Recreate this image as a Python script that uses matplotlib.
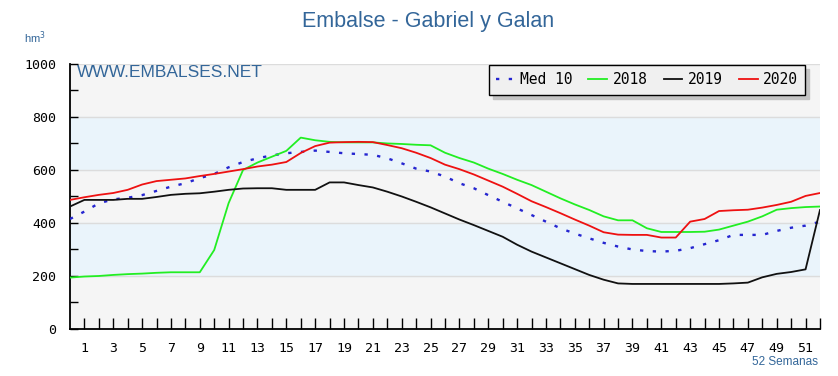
import matplotlib
matplotlib.use("Agg")
import matplotlib.pyplot as plt
import numpy as np

# weeks 0..52
weeks = np.arange(0, 53)

med10 = [415, 443, 474, 489, 495, 505, 521, 537, 550, 569, 585, 610, 630, 644, 655, 663,
         668, 673, 668, 663, 660, 657, 644, 625, 605, 594, 575, 550, 531, 505, 480, 455,
         430, 405, 380, 360, 342, 325, 311, 300, 294, 292, 295, 305, 320, 335, 355, 355,
         355, 370, 382, 390, 405]
y2018 = [194, 198, 200, 204, 207, 209, 212, 214, 214, 214, 298, 475, 600, 628, 650, 672,
         722, 712, 706, 704, 704, 704, 700, 698, 695, 693, 665, 645, 628, 605, 585, 563,
         543, 518, 493, 470, 449, 425, 410, 410, 380, 366, 366, 366, 367, 375, 390, 405,
         425, 450, 456, 460, 462]
y2019 = [462, 487, 487, 487, 491, 491, 498, 506, 510, 512, 518, 525, 530, 531, 531, 525,
         525, 525, 553, 553, 543, 534, 518, 500, 480, 459, 436, 413, 392, 370, 348, 318,
         292, 270, 248, 226, 204, 186, 172, 170, 170, 170, 170, 170, 170, 170, 172, 175,
         195, 208, 215, 225, 449]
y2020 = [487, 497, 506, 513, 525, 545, 558, 563, 568, 577, 585, 594, 603, 613, 620, 630,
         664, 690, 703, 705, 706, 705, 694, 682, 665, 645, 620, 603, 583, 560, 537, 510,
         482, 460, 437, 413, 390, 365, 356, 355, 355, 345, 345, 405, 415, 445, 448, 450,
         458, 468, 480, 502, 513]

blue_txt = '#336699'

fig = plt.figure(figsize=(8.38, 3.76), dpi=100)
ax = fig.add_axes([0.0835, 0.125, 0.895, 0.705])

ax.set_facecolor('#f5f5f5')
ax.axhspan(200, 400, color='#eaf4fb', zorder=0)
ax.axhspan(600, 800, color='#eaf4fb', zorder=0)
for yy in [200, 400, 600, 800, 1000]:
    ax.axhline(yy, color='#dcdcdc', lw=1, zorder=1)

ax.plot(weeks, med10, color='#2525d0', lw=1.7, ls=(0, (1.4, 4.0)), label='Med 10', zorder=3)
ax.plot(weeks, y2018, color='#22ee22', lw=1.3, label='2018', zorder=3)
ax.plot(weeks, y2019, color='#111111', lw=1.3, label='2019', zorder=3)
ax.plot(weeks, y2020, color='#ee1111', lw=1.3, label='2020', zorder=3)

ax.set_xlim(0, 52)
ax.set_ylim(0, 1000)
ax.spines['top'].set_visible(False)
ax.spines['right'].set_visible(False)
ax.spines['left'].set_linewidth(1.3)
ax.spines['bottom'].set_linewidth(1.3)

ax.set_yticks(np.arange(0, 1001, 100))
ax.set_yticklabels([str(v) if v % 200 == 0 else '' for v in range(0, 1001, 100)])
ax.set_xticks(np.arange(1, 53))
ax.set_xticklabels([str(w) if w % 2 == 1 else '' for w in range(1, 53)])
ax.tick_params(axis='both', direction='in', width=1, labelsize=9.5, colors='black')
ax.tick_params(axis='x', length=8, pad=9)
ax.tick_params(axis='y', length=6, pad=10)
for lab in ax.get_xticklabels() + ax.get_yticklabels():
    lab.set_family('DejaVu Sans Mono')

leg = ax.legend(loc='upper right', ncol=4, frameon=True, fancybox=False,
                shadow={'color': '#c4c4c4', 'alpha': 1, 'ox': 3, 'oy': -3},
                prop={'family': 'DejaVu Sans Mono', 'size': 10.5}, handlelength=1.3,
                handletextpad=0.35, columnspacing=1.1, borderpad=0.5,
                borderaxespad=0, bbox_to_anchor=(0.98, 0.996), framealpha=1)
leg.get_frame().set_edgecolor('black')
leg.get_frame().set_linewidth(1.0)
leg.get_frame().set_facecolor('#f0f0f0')

fig.text(0.511, 0.928, 'Embalse - Gabriel y Galan', color=blue_txt, fontsize=15.5,
         family='Liberation Sans', ha='center', va='baseline')
fig.text(0.042, 0.90, 'hm$^3$', color=blue_txt, fontsize=8, family='Liberation Sans',
         ha='center', va='center')
ax.text(0.0093, 0.951, 'WWW.EMBALSES.NET', color=blue_txt, fontsize=12.5,
        family='Liberation Sans', transform=ax.transAxes, ha='left', va='baseline')
fig.text(0.976, 0.037, '52 Semanas', color=blue_txt, fontsize=8.5,
         family='Liberation Sans', ha='right', va='center')

fig.savefig('out.png', dpi=100)
